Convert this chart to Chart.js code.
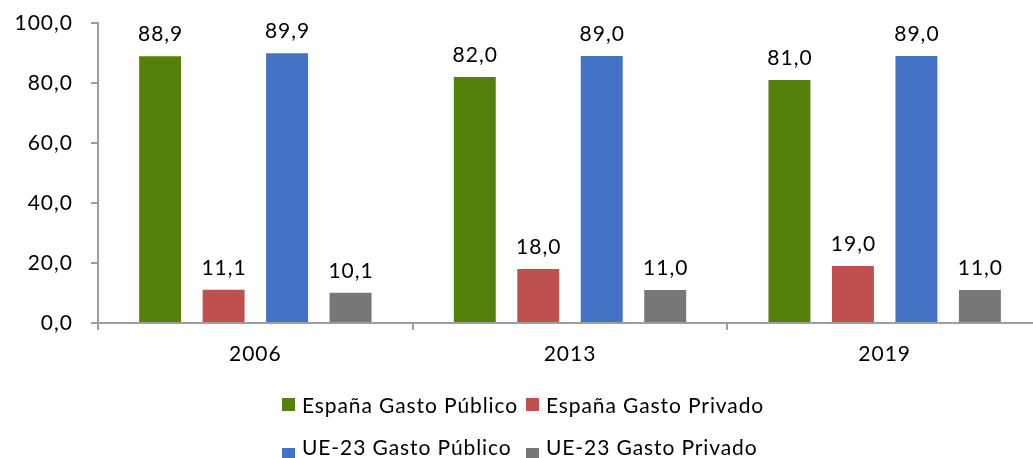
<!DOCTYPE html>
<html lang="es">
<head>
<meta charset="utf-8">
<title>Gasto público y privado</title>
<script src="https://cdn.jsdelivr.net/npm/chart.js@4.4.1/dist/chart.umd.min.js"></script>
<style>
  html, body { margin: 0; padding: 0; background: #fff; overflow: hidden; }
  #wrap { position: relative; width: 1033px; height: 458px; overflow: hidden; }
  #box { position: absolute; left: 0; top: 0; width: 1060px; height: 458px; }
  #legend {
    position: absolute; left: 282px; top: 392px;
    display: grid; grid-template-columns: 244px auto; grid-auto-rows: 42px;
    font-family: Lato, "Open Sans", sans-serif; font-size: 21px; line-height: 25px;
    letter-spacing: 0.9px; color: #000;
  }
  .item { display: flex; align-items: flex-start; white-space: pre; }
  .sw { width: 13px; height: 13px; margin-top: 6px; margin-right: 7px; flex: none; }
  .item:nth-child(n+3) .sw { margin-top: 14px; }
</style>
</head>
<body>
<div id="wrap">
  <div id="box"><canvas id="c"></canvas></div>
  <div id="legend"></div>
</div>
<script>
// Years on the category axis
const years = ['2006', '2013', '2019'];

// Share of total spending (%)
const espanaPublico = [88.9, 82.0, 81.0];
const espanaPrivado = [11.1, 18.0, 19.0];
const uePublico = [89.9, 89.0, 89.0];
const uePrivado = [10.1, 11.0, 11.0];

const seriesNames = ['España Gasto Público', 'España Gasto Privado', 'UE-23 Gasto Público', 'UE-23 Gasto Privado'];
const seriesColors = ['#558009', '#C0504D', '#4472C4', '#787776'];

const yTicks = [0, 20, 40, 60, 80, 100];

const FONT = 'Lato, "Open Sans", sans-serif';
const AXIS = '#9E9E9E';
const SPACING = '1px';
const fmt = v => Number(v).toFixed(1).replace('.', ',');

// Slightly wider glyph spacing for every canvas text
const spacing = {
  id: 'spacing',
  beforeUpdate(chart) { chart.ctx.letterSpacing = SPACING; },
  beforeDraw(chart) { chart.ctx.letterSpacing = SPACING; }
};

// Value labels above each bar
const valueLabels = {
  id: 'valueLabels',
  afterDatasetsDraw(chart) {
    const ctx = chart.ctx;
    ctx.save();
    ctx.letterSpacing = SPACING;
    ctx.font = '21px ' + FONT;
    ctx.fillStyle = '#000';
    ctx.textAlign = 'center';
    ctx.textBaseline = 'alphabetic';
    chart.data.datasets.forEach((ds, i) => {
      chart.getDatasetMeta(i).data.forEach((bar, j) => {
        ctx.fillText(fmt(ds.data[j]), bar.x + 0.5, bar.y - 15);
      });
    });
    ctx.restore();
  }
};

const seriesData = [espanaPublico, espanaPrivado, uePublico, uePrivado];

const chart = new Chart(document.getElementById('c'), {
  type: 'bar',
  data: {
    labels: years,
    datasets: seriesData.map((d, i) => ({
      label: seriesNames[i],
      data: d,
      backgroundColor: seriesColors[i],
      categoryPercentage: 0.807,
      barPercentage: 0.661
    }))
  },
  options: {
    responsive: true,
    maintainAspectRatio: false,
    animation: false,
    layout: { padding: { top: 23, right: 18, bottom: 0, left: 0 } },
    plugins: { legend: { display: false }, tooltip: { enabled: false } },
    scales: {
      x: {
        offset: true,
        grid: { display: true, drawOnChartArea: false, offset: true, tickLength: 7, color: AXIS, lineWidth: 2 },
        border: { display: true, color: AXIS, width: 2 },
        ticks: { color: '#000', font: { family: FONT, size: 21 }, padding: 12 },
        afterFit(scale) { scale.height = 135; scale.paddingLeft = 0; scale.paddingRight = 0; }
      },
      y: {
        min: 0, max: 100,
        afterBuildTicks(scale) { scale.ticks = yTicks.map(v => ({ value: v })); },
        grid: { display: true, drawOnChartArea: false, tickLength: 7, color: AXIS, lineWidth: 2 },
        border: { display: true, color: AXIS, width: 2 },
        ticks: { color: '#000', font: { family: FONT, size: 21 }, padding: 18, callback: v => fmt(v) },
        afterFit(scale) { scale.width = 98; scale.paddingTop = 0; scale.paddingBottom = 0; }
      }
    }
  },
  plugins: [spacing, valueLabels]
});

// Legend laid out in two columns, built from the chart's datasets
const legend = document.getElementById('legend');
chart.data.datasets.forEach(ds => {
  const item = document.createElement('div');
  item.className = 'item';
  const sw = document.createElement('span');
  sw.className = 'sw';
  sw.style.background = ds.backgroundColor;
  const txt = document.createElement('span');
  txt.textContent = ds.label;
  item.appendChild(sw);
  item.appendChild(txt);
  legend.appendChild(item);
});
</script>
</body>
</html>
